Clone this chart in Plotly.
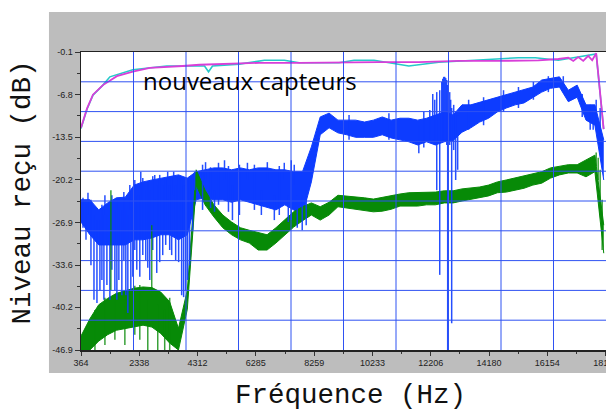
import plotly.graph_objects as go

# ---------------------------------------------------------------- data ----
# frequency bins (Hz), one every 300 Hz
FREQ_HZ = list(range(364, 18065, 300))

# blue sensor: upper / lower edge of the noisy level band (dB)
BLUE_HI = [-23.3, -23.3, -24.9, -23.8, -23.0, -22.9, -21.0, -20.5, -20.2, -19.9,
           -19.6, -19.4, -19.9, -18.9, -18.6, -18.3, -18.3, -18.6, -18.3, -18.6,
           -18.3, -18.3, -18.6, -18.6, -18.9, -18.9, -15.0, -10.3, -9.7, -10.8,
           -10.8, -10.8, -11.1, -10.8, -10.3, -10.8, -10.5, -10.5, -10.8, -10.5,
           -10.0, -9.5, -10.0, -8.4, -8.4, -8.0, -7.6, -7.2, -6.9, -6.5,
           -6.1, -5.6, -4.5, -4.2, -4.0, -6.1, -5.3, -8.4, -8.4, -13.9]
BLUE_LO = [-26.8, -28.8, -30.4, -30.4, -30.4, -30.4, -29.6, -29.6, -29.3, -28.8,
           -28.8, -29.6, -28.8, -23.3, -23.0, -23.3, -23.3, -23.7, -23.3, -23.7,
           -24.1, -24.4, -24.9, -24.1, -24.9, -25.7, -20.5, -13.1, -12.0, -12.8,
           -13.1, -13.5, -13.5, -13.5, -13.1, -13.6, -13.9, -14.2, -14.7, -14.2,
           -14.7, -14.2, -14.0, -12.7, -12.0, -11.1, -10.5, -9.5, -8.9, -8.4,
           -8.1, -7.2, -6.4, -5.8, -5.6, -7.9, -7.2, -10.8, -11.6, -20.2]

# blue sensor: isolated excursions (Hz, top dB, bottom dB)
BLUE_SPIKE_HZ = [431, 533, 600, 701, 803, 904, 1005, 1072, 1140, 1174,
                 1241, 1342, 1410, 1511, 1579, 1646, 1747, 1815, 1882, 1950,
                 2017, 2051, 2118, 2186, 2253, 2355, 2388, 2456, 2557, 2625,
                 2692, 2793, 2861, 2928, 3029, 3131, 3232, 3299, 3367, 3434,
                 3502, 3569, 3670, 3772, 3839, 3907, 3974, 4042, 4143, 4210,
                 4480, 4581, 4750, 4885, 5020, 5223, 5357, 5492, 5729, 5999,
                 6235, 6471, 6673, 6910, 7078, 7247, 7382, 7483, 7584, 7686,
                 7854, 7989, 9440, 10790, 11802, 11971, 12173, 12274, 12342, 12409,
                 12510, 12578, 12612, 12645, 12679, 12713, 12747, 12780, 12848, 12881,
                 12915, 12983, 13050, 13118, 13489, 13995, 14670, 15176, 15682, 16188,
                 16694, 17335, 17605, 17706, 17808, 17942]
BLUE_SPIKE_TOP = [-23.0, -24.1, -22.2, -23.3, -25.7, -26.5, -26.5, -24.1, -25.7, -22.6,
                  -25.7, -24.9, -22.6, -24.9, -23.3, -24.9, -24.9, -22.1, -24.9, -25.7,
                  -21.0, -23.3, -23.3, -20.2, -22.6, -22.6, -18.9, -19.9, -21.8, -20.5,
                  -21.8, -19.6, -19.4, -21.0, -19.4, -21.0, -19.9, -18.9, -21.0, -19.6,
                  -18.9, -21.0, -19.4, -20.2, -21.0, -21.0, -20.2, -19.9, -19.4, -18.9,
                  -17.8, -17.4, -18.2, -21.8, -17.5, -17.1, -18.0, -21.0, -17.8, -17.5,
                  -17.8, -21.8, -17.4, -22.6, -18.0, -17.5, -22.6, -17.1, -17.8, -22.6,
                  -22.6, -21.8, -10.0, -9.7, -11.6, -9.5, -9.2, -6.7, -7.6, -6.4,
                  -6.1, -4.8, -4.3, -4.0, -4.0, -4.2, -4.5, -5.3, -6.4, -7.6,
                  -8.9, -8.4, -9.5, -10.0, -7.6, -7.2, -6.1, -5.6, -4.8, -3.9,
                  -3.9, -6.7, -8.4, -8.9, -7.6, -8.9]
BLUE_SPIKE_BOT = [-27.7, -29.6, -25.7, -33.6, -39.0, -39.5, -37.5, -35.9, -39.0, -25.7,
                  -36.7, -39.0, -34.3, -37.5, -39.0, -35.9, -38.3, -32.8, -38.3, -41.1,
                  -24.9, -37.5, -35.4, -31.2, -34.3, -35.4, -23.3, -32.0, -32.8, -34.0,
                  -35.9, -31.2, -23.3, -34.8, -33.1, -32.0, -30.4, -23.3, -31.2, -32.0,
                  -22.6, -32.8, -33.1, -38.3, -38.6, -37.5, -35.9, -33.6, -28.1, -21.8,
                  -24.9, -20.2, -24.6, -25.2, -24.1, -20.2, -25.2, -26.5, -25.7, -20.2,
                  -24.9, -25.7, -20.2, -26.5, -25.7, -20.2, -26.8, -26.5, -21.0, -27.7,
                  -28.1, -27.3, -13.9, -13.9, -16.0, -15.1, -13.9, -13.9, -14.7, -21.8,
                  -35.1, -13.9, -13.9, -13.9, -13.9, -13.9, -14.7, -46.9, -14.7, -13.9,
                  -42.7, -15.5, -20.2, -18.6, -12.3, -11.6, -9.5, -8.9, -7.6, -6.4,
                  -6.4, -10.3, -12.3, -12.3, -11.9, -13.1]

# green sensor: upper / lower edge of the level band (dB)
GREEN_HI = [-44.7, -42.0, -39.8, -38.8, -38.0, -37.6, -37.2, -37.0, -37.1, -37.8,
            -39.3, -43.5, -37.5, -18.6, -21.8, -24.1, -25.7, -26.8, -27.7, -28.1,
            -28.5, -28.8, -27.7, -26.5, -25.2, -24.4, -23.8, -24.4, -23.7, -22.6,
            -22.7, -22.9, -23.0, -23.2, -22.9, -22.7, -22.4, -22.2, -22.2, -22.2,
            -22.1, -21.9, -21.9, -21.6, -21.5, -21.3, -21.0, -20.5, -20.2, -19.9,
            -19.6, -19.2, -18.9, -18.3, -18.0, -17.8, -17.8, -17.1, -16.3, -27.3]
GREEN_LO = [-46.9, -46.9, -45.5, -44.5, -43.8, -43.5, -43.3, -43.0, -43.3, -44.3,
            -45.8, -46.9, -40.5, -21.0, -24.1, -26.0, -27.7, -28.8, -29.6, -30.1,
            -31.2, -31.2, -30.1, -28.8, -27.6, -26.6, -25.7, -26.5, -25.7, -24.4,
            -24.6, -24.9, -25.1, -25.2, -25.1, -24.8, -24.3, -24.3, -24.3, -24.1,
            -24.1, -23.8, -23.8, -23.5, -23.2, -23.0, -22.7, -22.2, -22.1, -21.8,
            -21.5, -21.0, -20.7, -19.9, -19.4, -19.1, -19.1, -19.7, -18.9, -31.7]

GREEN_SPIKE_HZ = [836, 1174, 1376, 1511, 1849, 2186, 2355, 2625, 2759, 2962,
                  3198, 3367, 17808, 17875, 17942, 18010]
GREEN_SPIKE_TOP = [-40.6, -38.7, -21.8, -39.0, -39.0, -36.8, -36.7, -39.0, -27.3, -39.8,
                   -40.6, -38.7, -15.9, -16.7, -18.6, -23.3]
GREEN_SPIKE_BOT = [-46.9, -46.1, -37.5, -45.3, -46.1, -44.5, -45.3, -46.9, -37.5, -46.9,
                   -46.9, -46.9, -18.0, -20.2, -25.7, -31.2]

# new sensors (magenta and cyan, nearly superimposed)
PINK_HZ = [364, 566, 769, 1106, 1579, 2118, 2692, 3265, 3807, 4379,
           5403, 6404, 7753, 9103, 10452, 11802, 13152, 14501, 15851, 16526,
           16863, 17032, 17200, 17369, 17538, 17673, 17808, 17875, 17976, 18060]
PINK_DB = [-12.0, -9.0, -6.8, -5.3, -3.9, -3.2, -2.6, -2.5, -2.3, -2.1,
           -2.0, -1.8, -1.8, -1.7, -1.7, -1.7, -1.5, -1.5, -1.4, -1.2,
           -1.0, -1.5, -0.9, -1.5, -0.7, -1.4, -0.3, -3.4, -8.7, -12.2]
CYAN_HZ = [364, 566, 769, 1106, 1342, 2118, 3265, 4379, 4547, 4682,
           4817, 5729, 6573, 7247, 7753, 9103, 9609, 10284, 11127, 11464,
           12477, 15176, 15749, 16526, 17808, 17875, 17976, 18060]
CYAN_DB = [-12.1, -9.1, -6.9, -5.3, -4.0, -2.9, -2.3, -2.3, -2.3, -3.2,
           -2.3, -2.0, -1.4, -1.4, -1.8, -1.8, -1.4, -1.4, -2.0, -2.3,
           -1.7, -1.0, -1.0, -1.4, -0.4, -3.4, -8.7, -12.2]

# axis ticks
X_TICKS = [364, 2338, 4312, 6285, 8259, 10233, 12206, 14180, 16154, 18128]
Y_TICKS = [-0.1, -6.8, -13.5, -20.2, -26.9, -33.6, -40.2, -46.9]

# --------------------------------------------------------------- styles ----
BLUE = "#0d3cff"
GREEN = "#078a07"
PINK = "#d83ed8"
CYAN = "#26c9c9"
GRID = "#2f52f2"
PANEL = "#bdbdbd"


def spikes(xs, tops, bots):
    """Vertical segments joined into one path, separated by gaps."""
    px, py = [], []
    for x, t, b in zip(xs, tops, bots):
        px += [x, x, None]
        py += [t, b, None]
    return px, py


fig = go.Figure()

# blue band
fig.add_trace(go.Scatter(x=FREQ_HZ, y=BLUE_LO, mode="lines",
                         line=dict(color=BLUE, width=1)))
fig.add_trace(go.Scatter(x=FREQ_HZ, y=BLUE_HI, mode="lines", fill="tonexty",
                         fillcolor=BLUE, line=dict(color=BLUE, width=1)))
# green band
fig.add_trace(go.Scatter(x=FREQ_HZ, y=GREEN_LO, mode="lines",
                         line=dict(color=GREEN, width=1)))
fig.add_trace(go.Scatter(x=FREQ_HZ, y=GREEN_HI, mode="lines", fill="tonexty",
                         fillcolor=GREEN, line=dict(color=GREEN, width=1)))
# excursions
bx, by = spikes(BLUE_SPIKE_HZ, BLUE_SPIKE_TOP, BLUE_SPIKE_BOT)
fig.add_trace(go.Scatter(x=bx, y=by, mode="lines", connectgaps=False,
                         line=dict(color="rgba(13,60,255,0.9)", width=1.5)))
gx, gy = spikes(GREEN_SPIKE_HZ, GREEN_SPIKE_TOP, GREEN_SPIKE_BOT)
fig.add_trace(go.Scatter(x=gx, y=gy, mode="lines", connectgaps=False,
                         line=dict(color="rgba(7,138,7,0.8)", width=1.5)))
# new sensors
fig.add_trace(go.Scatter(x=CYAN_HZ, y=CYAN_DB, mode="lines",
                         line=dict(color=CYAN, width=1.6)))
fig.add_trace(go.Scatter(x=PINK_HZ, y=PINK_DB, mode="lines",
                         line=dict(color=PINK, width=1.8)))

x_minor = [(a + b) / 2 for a, b in zip(X_TICKS[:-1], X_TICKS[1:])]
y_minor = [(a + b) / 2 for a, b in zip(Y_TICKS[:-1], Y_TICKS[1:])]
tick_font = dict(family="Liberation Sans, Arial, sans-serif", size=9, color="#222")

# grey frame behind the plotting area, then the white plotting area
shapes = [
    dict(type="rect", xref="paper", yref="paper", x0=-0.061, x1=1.02,
         y0=-0.0772, y1=1.1342, fillcolor=PANEL, line=dict(width=0), layer="below"),
    dict(type="rect", xref="paper", yref="paper", x0=0, x1=1, y0=0, y1=1,
         fillcolor="white", line=dict(width=0), layer="below"),
]
# ten-division grid drawn over the curves
for i in range(1, 10):
    shapes.append(dict(type="line", xref="x domain", yref="y domain",
                       x0=i / 10, x1=i / 10, y0=0, y1=1,
                       line=dict(color=GRID, width=1), layer="above"))
    shapes.append(dict(type="line", xref="x domain", yref="y domain",
                       x0=0, x1=1, y0=i / 10, y1=i / 10,
                       line=dict(color=GRID, width=1), layer="above"))

title_font = dict(family="Liberation Mono, DejaVu Sans Mono, monospace",
                  size=27.5, color="#111")

fig.update_layout(
    width=606, height=410, autosize=False,
    margin=dict(l=81, r=0, t=52, b=60, pad=0, autoexpand=False),
    paper_bgcolor="white", plot_bgcolor="white",
    showlegend=False, hovermode=False,
    shapes=shapes,
    xaxis=dict(range=[364, 18140], tickmode="array", tickvals=X_TICKS,
               ticktext=[str(v) for v in X_TICKS], ticks="outside", ticklen=4,
               tickwidth=1, tickcolor="#333", tickfont=tick_font,
               ticklabeloverflow="allow", automargin=False,
               minor=dict(tickmode="array", tickvals=x_minor, ticks="outside",
                          ticklen=2, tickcolor="#333", tickwidth=1, showgrid=False),
               showline=True, linecolor="#222", linewidth=1.5, mirror=True,
               showgrid=False, zeroline=False, layer="above traces", fixedrange=True),
    yaxis=dict(range=[-46.9, -0.1], tickmode="array", tickvals=Y_TICKS,
               ticktext=[f"{v:.1f}" for v in Y_TICKS], ticks="outside", ticklen=5,
               tickwidth=1, tickcolor="#333", tickfont=tick_font, automargin=False,
               minor=dict(tickmode="array", tickvals=y_minor, ticks="outside",
                          ticklen=3, tickcolor="#333", tickwidth=1, showgrid=False),
               showline=True, linecolor="#222", linewidth=1.5, mirror=False,
               showgrid=False, zeroline=False, layer="above traces", fixedrange=True),
    annotations=[
        dict(text="nouveaux capteurs", xref="paper", yref="paper", x=0.322, y=0.903,
             xanchor="center", yanchor="middle", showarrow=False,
             font=dict(family="Open Sans, Lato, sans-serif", size=24, color="#000")),
        dict(text="Fréquence (Hz)", xref="paper", yref="paper", x=0.5133, y=-0.154,
             xanchor="center", yanchor="middle", showarrow=False, font=title_font),
        dict(text="Niveau reçu (dB)", xref="paper", yref="paper", x=-0.1105, y=0.5285,
             xanchor="center", yanchor="middle", textangle=-90, showarrow=False,
             font=title_font),
    ],
)

fig.write_html("out.html", config={"displayModeBar": False, "staticPlot": True})
